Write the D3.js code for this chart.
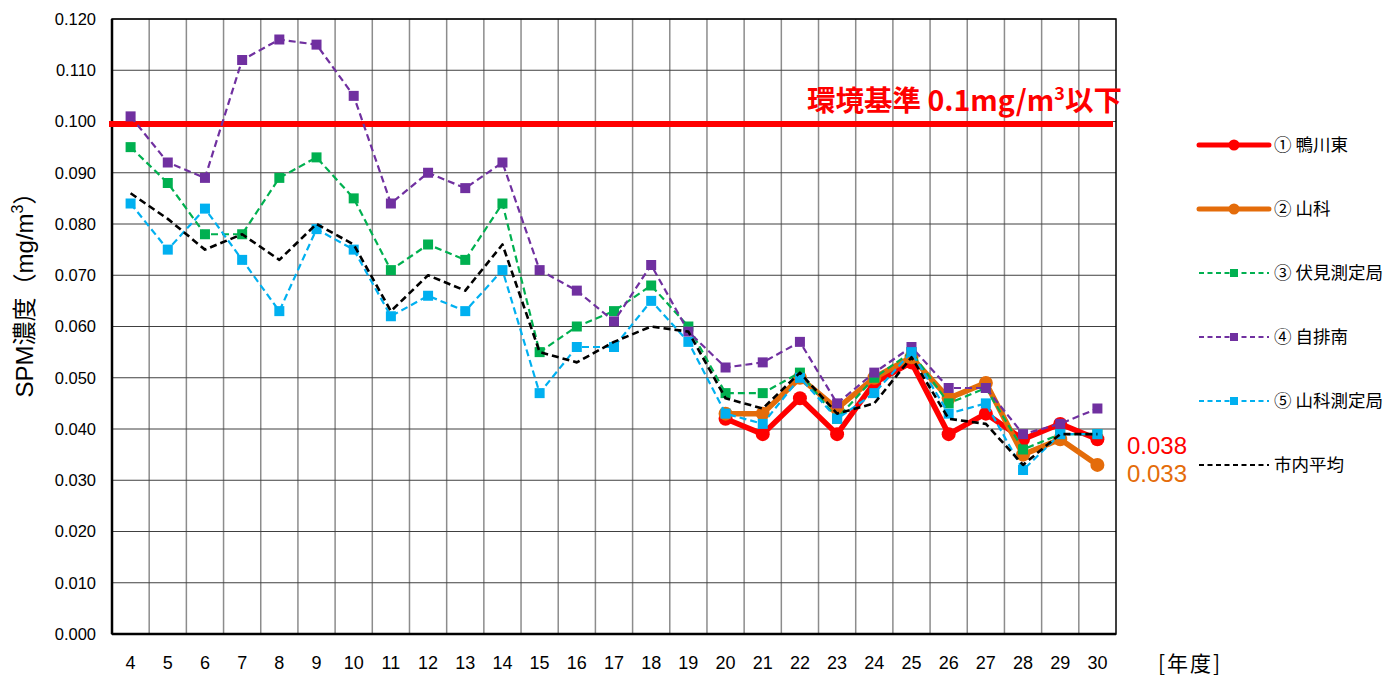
<!DOCTYPE html>
<html>
<head>
<meta charset="utf-8">
<script src="https://cdn.jsdelivr.net/npm/d3@7"></script>
<style>
  body { margin: 0; background: #fff; }
  text { font-family: "Liberation Sans", Arial, sans-serif; }
  .jp { font-family: "Noto Sans CJK JP", "Noto Sans", sans-serif; }
</style>
</head>
<body>
<svg id="chart" width="1395" height="679"></svg>
<script>
var width = 1395;
var height = 679;

// 年度
var years = [4, 5, 6, 7, 8, 9, 10, 11, 12, 13, 14, 15, 16, 17, 18, 19, 20, 21, 22, 23, 24, 25, 26, 27, 28, 29, 30];
var yTicks = [0, 0.01, 0.02, 0.03, 0.04, 0.05, 0.06, 0.07, 0.08, 0.09, 0.1, 0.11, 0.12];

// series values (mg/m3)
var kamogawa = [null, null, null, null, null, null, null, null, null, null, null, null, null, null, null, null,
  0.042, 0.039, 0.046, 0.039, 0.049, 0.053, 0.039, 0.043, 0.038, 0.041, 0.038];
var yamashina = [null, null, null, null, null, null, null, null, null, null, null, null, null, null, null, null,
  0.043, 0.043, 0.050, 0.044, 0.050, 0.054, 0.046, 0.049, 0.035, 0.038, 0.033];
var fushimi = [0.095, 0.088, 0.078, 0.078, 0.089, 0.093, 0.085, 0.071, 0.076, 0.073, 0.084, 0.055, 0.060, 0.063,
  0.068, 0.060, 0.047, 0.047, 0.051, 0.042, 0.050, 0.055, 0.045, 0.048, 0.036, 0.039, 0.039];
var jihaiMinami = [0.101, 0.092, 0.089, 0.112, 0.116, 0.115, 0.105, 0.084, 0.090, 0.087, 0.092, 0.071, 0.067, 0.061,
  0.072, 0.059, 0.052, 0.053, 0.057, 0.045, 0.051, 0.056, 0.048, 0.048, 0.039, 0.041, 0.044];
var yamashinaSt = [0.084, 0.075, 0.083, 0.073, 0.063, 0.079, 0.075, 0.062, 0.066, 0.063, 0.071, 0.047, 0.056, 0.056,
  0.065, 0.057, 0.043, 0.041, 0.050, 0.042, 0.047, 0.055, 0.043, 0.045, 0.032, 0.039, 0.039];
var cityAvg = [0.086, 0.081, 0.075, 0.078, 0.073, 0.080, 0.076, 0.063, 0.070, 0.067, 0.076, 0.055, 0.053, 0.057,
  0.060, 0.059, 0.046, 0.044, 0.051, 0.043, 0.045, 0.054, 0.042, 0.041, 0.033, 0.039, 0.039];
var standard = 0.1;

var series = [
  { name: "① 鴨川東", values: kamogawa, color: "#ff0000", width: 5.5, dash: null, marker: "circle" },
  { name: "② 山科", values: yamashina, color: "#e46c0a", width: 5.5, dash: null, marker: "circle" },
  { name: "③ 伏見測定局", values: fushimi, color: "#00b050", width: 2.2, dash: "7,4", marker: "square" },
  { name: "④ 自排南", values: jihaiMinami, color: "#7030a0", width: 2.2, dash: "7,4", marker: "square" },
  { name: "⑤ 山科測定局", values: yamashinaSt, color: "#00b0f0", width: 2.2, dash: "7,4", marker: "square" },
  { name: "市内平均", values: cityAvg, color: "#000000", width: 2.6, dash: "7,4", marker: null }
];

var margin = { top: 19, right: 279, bottom: 45, left: 112 };
var plotW = width - margin.left - margin.right;
var plotH = height - margin.top - margin.bottom;

var svg = d3.select("#chart");
var g = svg.append("g").attr("transform", "translate(" + margin.left + "," + margin.top + ")");

var x = d3.scaleBand().domain(years).range([0, plotW]);
var y = d3.scaleLinear().domain([0, 0.12]).range([plotH, 0]);

// vertical grid (category boundaries)
g.selectAll(".vgrid")
  .data(years.slice(1))
  .enter().append("line")
  .attr("x1", function(d) { return x(d); })
  .attr("x2", function(d) { return x(d); })
  .attr("y1", 0).attr("y2", plotH)
  .attr("stroke", "#8c8c8c").attr("stroke-width", 1.5);

// horizontal grid
g.selectAll(".hgrid")
  .data(yTicks)
  .enter().append("line")
  .attr("x1", 0).attr("x2", plotW)
  .attr("y1", function(d) { return y(d); })
  .attr("y2", function(d) { return y(d); })
  .attr("stroke", "#404040").attr("stroke-width", 1);

// frame
g.append("rect").attr("x", 0).attr("y", 0).attr("width", plotW).attr("height", plotH)
  .attr("fill", "none").attr("stroke", "#000").attr("stroke-width", 1.5);
g.append("line").attr("x1", 0).attr("x2", 0).attr("y1", 0).attr("y2", plotH)
  .attr("stroke", "#000").attr("stroke-width", 2.5);
g.append("line").attr("x1", 0).attr("x2", plotW).attr("y1", plotH).attr("y2", plotH)
  .attr("stroke", "#000").attr("stroke-width", 2.5);

// y axis labels
var yAxis = g.append("g").call(d3.axisLeft(y).tickValues(yTicks).tickFormat(d3.format(".3f")).tickSize(0).tickPadding(16));
yAxis.select(".domain").remove();
yAxis.selectAll("text").attr("font-size", 16.5).attr("fill", "#000")
  .attr("font-family", "'Liberation Sans', Arial, sans-serif");

// x axis labels
var xAxis = g.append("g").attr("transform", "translate(0," + plotH + ")")
  .call(d3.axisBottom(x).tickSize(0).tickPadding(22));
xAxis.select(".domain").remove();
xAxis.selectAll("text").attr("font-size", 18).attr("fill", "#000")
  .attr("font-family", "'Liberation Sans', Arial, sans-serif");

// environmental standard line
g.append("line")
  .attr("x1", -3).attr("x2", plotW - 3)
  .attr("y1", y(standard) + 2.5).attr("y2", y(standard) + 2.5)
  .attr("stroke", "#ff0000").attr("stroke-width", 6);
g.append("text").attr("class", "jp")
  .attr("x", plotW + 6).attr("y", y(standard) - 11)
  .attr("text-anchor", "end").attr("fill", "#ff0000")
  .attr("font-size", 28.5).attr("font-weight", "bold")
  .html('環境基準 0.1mg/m<tspan dy="-11" font-size="18">3</tspan><tspan dy="11">以下</tspan>');

// series lines and markers
var line = d3.line()
  .defined(function(d) { return d != null; })
  .x(function(d, i) { return x(years[i]) + x.bandwidth() / 2; })
  .y(function(d) { return y(d); });

series.forEach(function(s) {
  g.append("path")
    .datum(s.values)
    .attr("d", line)
    .attr("fill", "none")
    .attr("stroke", s.color)
    .attr("stroke-width", s.width)
    .attr("stroke-dasharray", s.dash)
    .attr("stroke-linejoin", "round");

  var pts = s.values.map(function(v, i) { return { v: v, yr: years[i] }; })
    .filter(function(d) { return d.v != null; });
  if (s.marker === "circle") {
    g.selectAll(null).data(pts).enter().append("circle")
      .attr("cx", function(d) { return x(d.yr) + x.bandwidth() / 2; })
      .attr("cy", function(d) { return y(d.v); })
      .attr("r", 7)
      .attr("fill", s.color);
  } else if (s.marker === "square") {
    g.selectAll(null).data(pts).enter().append("rect")
      .attr("x", function(d) { return x(d.yr) + x.bandwidth() / 2 - 5; })
      .attr("y", function(d) { return y(d.v) - 5; })
      .attr("width", 10).attr("height", 10)
      .attr("fill", s.color);
  }
});

// last values labels
var lastX = plotW + 11;
g.append("text").attr("x", lastX).attr("y", y(kamogawa[kamogawa.length - 1]) + 15)
  .attr("fill", "#ff0000").attr("font-size", 24)
  .text(d3.format(".3f")(kamogawa[kamogawa.length - 1]));
g.append("text").attr("x", lastX).attr("y", y(yamashina[yamashina.length - 1]) + 17)
  .attr("fill", "#e46c0a").attr("font-size", 24)
  .text(d3.format(".3f")(yamashina[yamashina.length - 1]));

// axis titles
svg.append("text")
  .attr("transform", "translate(33,289) rotate(-90)")
  .attr("text-anchor", "middle").attr("font-size", 24)
  .html('SPM<tspan font-family="Noto Sans CJK JP">濃度（</tspan>mg/m<tspan dy="-10" font-size="16">3</tspan><tspan dy="10" font-family="Noto Sans CJK JP">）</tspan>');
svg.append("text").attr("class", "jp")
  .attr("x", 1158).attr("y", 671)
  .attr("font-size", 21).attr("letter-spacing", 2)
  .text("[年度]");

// legend
var legend = svg.append("g").attr("transform", "translate(1199,145)");
var rowH = 64;
series.forEach(function(s, i) {
  var row = legend.append("g").attr("transform", "translate(0," + (i * rowH) + ")");
  row.append("line").attr("x1", 0).attr("x2", 70).attr("y1", 0).attr("y2", 0)
    .attr("stroke", s.color).attr("stroke-width", s.marker === "circle" ? 5 : 2)
    .attr("stroke-dasharray", s.dash ? "5,3.5" : null)
    .attr("stroke-linecap", s.marker === "circle" ? "round" : null);
  if (s.marker === "circle") {
    row.append("circle").attr("cx", 35).attr("cy", 0).attr("r", 5.5).attr("fill", s.color);
  } else if (s.marker === "square") {
    row.append("rect").attr("x", 31).attr("y", -4).attr("width", 8).attr("height", 8).attr("fill", s.color);
  }
  row.append("text").attr("class", "jp")
    .attr("x", 75).attr("y", 6).attr("font-size", 17.5).attr("fill", "#000")
    .text(s.name);
});
</script>
</body>
</html>
